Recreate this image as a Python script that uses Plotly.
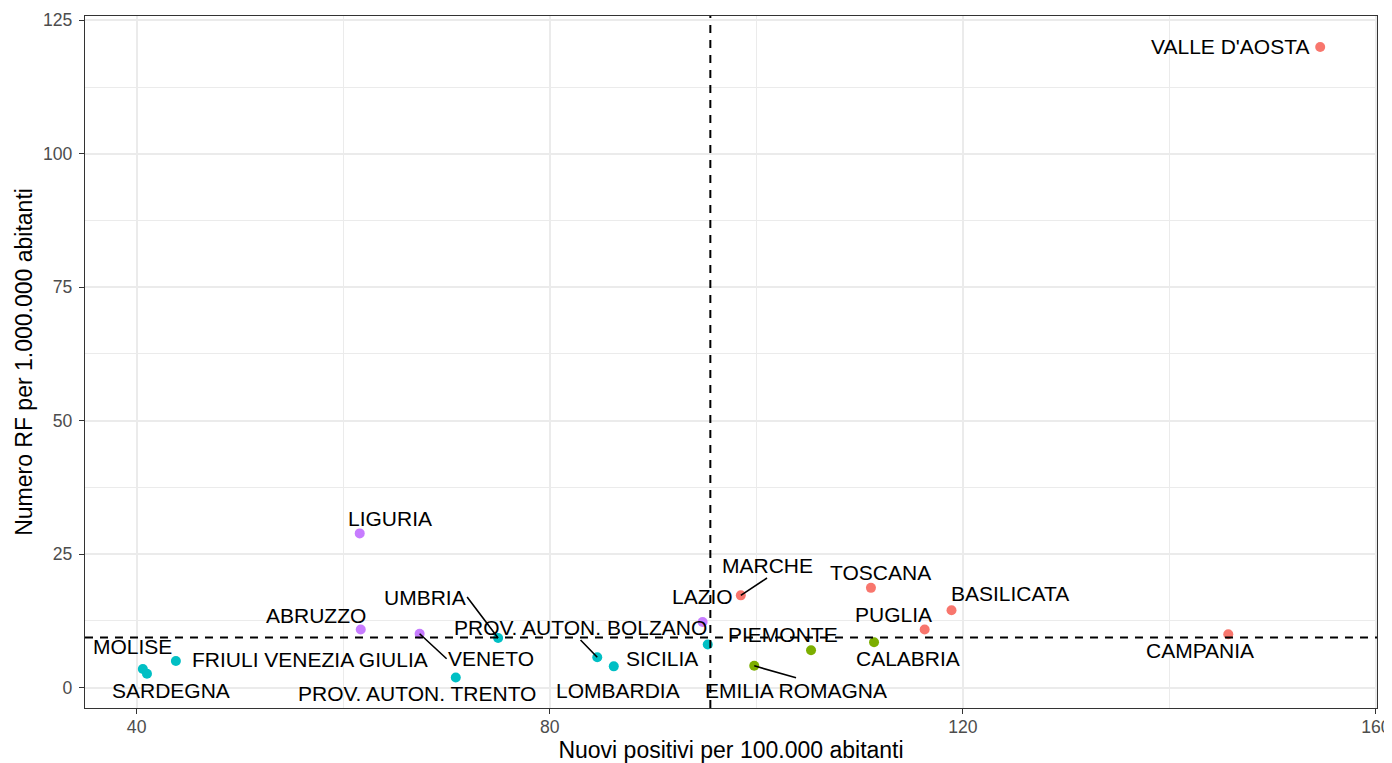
import plotly.graph_objects as go

# ---------------- data ----------------
regions = ["VALLE D'AOSTA", "CAMPANIA", "BASILICATA", "PUGLIA", "TOSCANA", "CALABRIA",
           "PIEMONTE", "EMILIA ROMAGNA", "MARCHE", "LAZIO", "SICILIA", "LOMBARDIA",
           "PROV. AUTON. BOLZANO", "UMBRIA", "VENETO", "LIGURIA", "ABRUZZO",
           "PROV. AUTON. TRENTO", "FRIULI VENEZIA GIULIA", "MOLISE", "SARDEGNA"]
nuovi_positivi = [154.6, 145.7, 118.9, 116.3, 111.1, 111.4,
                  105.3, 99.8, 98.5, 94.8, 95.3, 86.2,
                  84.6, 75.0, 67.4, 61.6, 61.7,
                  70.9, 43.8, 40.6, 41.0]
numero_rf = [120.0, 10.0, 14.5, 10.9, 18.7, 8.5,
             7.0, 4.1, 17.3, 12.3, 8.1, 4.0,
             5.7, 9.3, 10.1, 28.9, 10.9,
             1.9, 5.0, 3.5, 2.6]
ref_x = 95.55   # reference value (vertical dashed line)
ref_y = 9.4     # reference value (horizontal dashed line)

x_ticks = [40, 80, 120, 160]
y_ticks = [0, 25, 50, 75, 100, 125]

# ---------------- styling ----------------
quad_colors = {"HH": "#F8766D", "HL": "#7CAE00", "LL": "#00BFC4", "LH": "#C77CFF"}
# label placement without segment: pixel offsets of text centre (dx right, dy down)
label_shift = {
    "VALLE D'AOSTA": (-90, 0),
    "CAMPANIA": (-28.6, 16),
    "BASILICATA": (58.7, -17),
    "PUGLIA": (-31, -15.3),
    "TOSCANA": (10, -15.4),
    "CALABRIA": (33.7, 16),
    "PIEMONTE": (-28, -15.7),
    "LAZIO": (0, -25.7),
    "SICILIA": (-45.6, 14),
    "LOMBARDIA": (4.2, 24),
    "LIGURIA": (30.4, -15),
    "ABRUZZO": (-44.9, -14.3),
    "PROV. AUTON. TRENTO": (-38.3, 16),
    "FRIULI VENEZIA GIULIA": (133.8, -1.4),
    "MOLISE": (-10.6, -22.3),
    "SARDEGNA": (23.8, 17),
}
# labels with a segment: (ax, ay, xanchor, yanchor) -> segment tail at label edge
label_segment = {
    "EMILIA ROMAGNA": (41.8, 12, "center", "top"),
    "MARCHE": (26.2, -17.3, "center", "bottom"),
    "PROV. AUTON. BOLZANO": (-16.7, -17.3, "center", "bottom"),
    "UMBRIA": (-31, -41, "right", "middle"),
    "VENETO": (27, 25, "left", "middle"),
}

FONT = "Liberation Sans, Arial, Helvetica, sans-serif"
LABEL_FONT = dict(family=FONT, size=21, color="black")


def quadrant(x, y):
    return ("H" if x >= ref_x else "L") + ("H" if y >= ref_y else "L")


colors = [quad_colors[quadrant(x, y)] for x, y in zip(nuovi_positivi, numero_rf)]

fig = go.Figure()
fig.add_trace(go.Scatter(
    x=nuovi_positivi, y=numero_rf, mode="markers", text=regions,
    marker=dict(size=10, color=colors, line=dict(width=0)),
    showlegend=False, hoverinfo="text+x+y",
))

dash = "8px,7px"
fig.add_vline(x=ref_x, line=dict(color="black", width=2, dash=dash), layer="above")
fig.add_hline(y=ref_y, line=dict(color="black", width=2, dash=dash), layer="above")

for name, x, y in zip(regions, nuovi_positivi, numero_rf):
    if name in label_segment:
        ax, ay, xa, ya = label_segment[name]
        fig.add_annotation(x=x, y=y, text=name, showarrow=True, arrowhead=0,
                           arrowwidth=1.6, arrowcolor="black", ax=ax, ay=ay,
                           xanchor=xa, yanchor=ya, standoff=0,
                           font=LABEL_FONT, borderpad=0)
    else:
        dx, dy = label_shift[name]
        fig.add_annotation(x=x, y=y, text=name, showarrow=False,
                           xshift=dx, yshift=-dy, font=LABEL_FONT, borderpad=0)

axis_common = dict(
    showline=True, mirror=True, linecolor="#333333", linewidth=1.3,
    ticks="outside", ticklen=5, tickwidth=1.3, tickcolor="#333333",
    showgrid=True, gridcolor="#EBEBEB", gridwidth=1.5,
    zeroline=False,
    tickfont=dict(family=FONT, size=17.6, color="#4D4D4D"),
    title_font=dict(family=FONT, size=23, color="black"),
)

fig.update_xaxes(**axis_common, range=[35.0, 160.1], tickvals=x_ticks,
                 ticktext=[str(v) for v in x_ticks],
                 minor=dict(showgrid=True, gridcolor="#EBEBEB", gridwidth=0.8, dtick=20, tick0=0),
                 title_text="Nuovi positivi per 100.000 abitanti", title_standoff=11,
                 ticklabelstandoff=-2)
fig.update_yaxes(**axis_common, range=[-3.8, 125.8], tickvals=y_ticks,
                 ticktext=[str(v) for v in y_ticks],
                 minor=dict(showgrid=True, gridcolor="#EBEBEB", gridwidth=0.8, dtick=12.5, tick0=0),
                 title_text="Numero RF per 1.000.000 abitanti", title_standoff=3,
                 ticklabelstandoff=3)

# page body has an 8px margin: size the figure so it fills the 1392x763 window
fig.update_layout(
    width=1384, height=755,
    margin=dict(l=77, r=15, t=8, b=55, autoexpand=False),
    plot_bgcolor="white", paper_bgcolor="white",
    font=dict(family=FONT),
)

fig.write_html("out.html")
